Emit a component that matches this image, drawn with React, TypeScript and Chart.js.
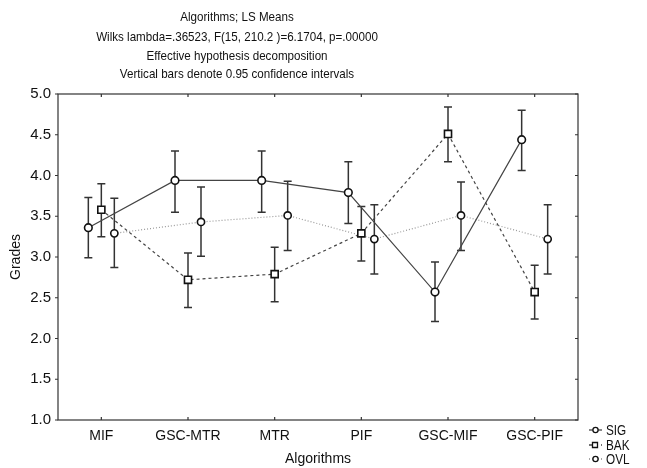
import React, { useEffect, useRef } from "react";
import { Chart, registerables } from "chart.js";

Chart.register(...registerables);

const categories = ["MIF", "GSC-MTR", "MTR", "PIF", "GSC-MIF", "GSC-PIF"];
const titleLines = [
  "Algorithms; LS Means",
  "Wilks lambda=.36523, F(15, 210.2 )=6.1704, p=.00000",
  "Effective hypothesis decomposition",
  "Vertical bars denote 0.95 confidence intervals",
];
const seriesNames = ["SIG", "BAK", "OVL"];
const sigMean = [3.36, 3.94, 3.94, 3.79, 2.57, 4.44];
const sigLow = [2.99, 3.55, 3.55, 3.41, 2.21, 4.06];
const sigHigh = [3.73, 4.3, 4.3, 4.17, 2.94, 4.8];
const bakMean = [3.58, 2.72, 2.79, 3.29, 4.51, 2.57];
const bakLow = [3.25, 2.38, 2.45, 2.95, 4.17, 2.24];
const bakHigh = [3.9, 3.05, 3.12, 3.62, 4.84, 2.9];
const ovlMean = [3.29, 3.43, 3.51, 3.22, 3.51, 3.22];
const ovlLow = [2.87, 3.01, 3.08, 2.79, 3.08, 2.79];
const ovlHigh = [3.72, 3.86, 3.93, 3.64, 3.92, 3.64];
const seriesOffsets = [-0.15, 0, 0.15];
const yTicks = [1.0, 1.5, 2.0, 2.5, 3.0, 3.5, 4.0, 4.5, 5.0];

const FONT = "'Liberation Sans', Arial, sans-serif";

export default function App() {
  const ref = useRef<HTMLCanvasElement | null>(null);
  useEffect(() => {
    if (!ref.current) return;
    const means = [sigMean, bakMean, ovlMean];
    const lows = [sigLow, bakLow, ovlLow];
    const highs = [sigHigh, bakHigh, ovlHigh];
    const lineColors = ["#444", "#444", "#999"];
    const dashes = [[], [3, 3], [1, 2]];
    const styles = ["circle", "rect", "circle"];
    const radii = [3.8, 5, 3.6];

    const datasets = seriesNames.map((name, s) => ({
      label: name,
      data: means[s].map((v, i) => ({ x: i + seriesOffsets[s], y: v })),
      borderColor: lineColors[s],
      borderWidth: 1.2,
      borderDash: dashes[s],
      pointStyle: styles[s],
      pointRadius: radii[s],
      pointBackgroundColor: "#fff",
      pointBorderColor: "#111",
      pointBorderWidth: 1.6,
      tension: 0,
    }));

    const custom = {
      id: "custom",
      beforeDatasetsDraw(chart: any) {
        const { ctx } = chart;
        const xs = chart.scales.x;
        const ys = chart.scales.y;
        ctx.save();
        ctx.strokeStyle = "#333";
        ctx.lineWidth = 1.5;
        for (let s = 0; s < 3; s++) {
          for (let i = 0; i < categories.length; i++) {
            const px = xs.getPixelForValue(i + seriesOffsets[s]);
            const pl = ys.getPixelForValue(lows[s][i]);
            const ph = ys.getPixelForValue(highs[s][i]);
            ctx.beginPath();
            ctx.moveTo(px, pl);
            ctx.lineTo(px, ph);
            ctx.moveTo(px - 4, pl);
            ctx.lineTo(px + 4, pl);
            ctx.moveTo(px - 4, ph);
            ctx.lineTo(px + 4, ph);
            ctx.stroke();
          }
        }
        ctx.restore();
      },
      afterDraw(chart: any) {
        const { ctx, chartArea: a } = chart;
        const xs = chart.scales.x;
        const ys = chart.scales.y;
        ctx.save();
        // frame
        ctx.strokeStyle = "#333";
        ctx.lineWidth = 1.2;
        ctx.strokeRect(a.left, a.top, a.right - a.left, a.bottom - a.top);
        ctx.beginPath();
        for (let i = 0; i < categories.length; i++) {
          const px = xs.getPixelForValue(i);
          ctx.moveTo(px, a.bottom);
          ctx.lineTo(px, a.bottom - 3);
          ctx.moveTo(px, a.top);
          ctx.lineTo(px, a.top + 3);
        }
        for (const t of yTicks) {
          const py = ys.getPixelForValue(t);
          ctx.moveTo(a.right, py);
          ctx.lineTo(a.right - 3, py);
          ctx.moveTo(a.left, py);
          ctx.lineTo(a.left - 3, py);
        }
        ctx.stroke();
        // title (slightly condensed, as in the reference)
        ctx.fillStyle = "#111";
        ctx.font = `13.5px ${FONT}`;
        ctx.textAlign = "center";
        ctx.textBaseline = "middle";
        const ty = [17, 37, 56, 74];
        titleLines.forEach((t, i) => {
          ctx.save();
          ctx.translate(237, ty[i]);
          ctx.scale(0.86, 1);
          ctx.fillText(t, 0, 0);
          ctx.restore();
        });
        // legend
        const ly = [430, 445, 459];
        ctx.textAlign = "left";
        ctx.font = `14px ${FONT}`;
        for (let s = 0; s < 3; s++) {
          ctx.strokeStyle = s === 2 ? "#888" : lineColors[s];
          ctx.lineWidth = 1.3;
          ctx.setLineDash(dashes[s]);
          ctx.beginPath();
          ctx.moveTo(589, ly[s]);
          ctx.lineTo(602, ly[s]);
          ctx.stroke();
          ctx.setLineDash([]);
          ctx.strokeStyle = "#111";
          ctx.fillStyle = "#fff";
          ctx.lineWidth = 1.3;
          ctx.beginPath();
          if (styles[s] === "rect") ctx.rect(592.5, ly[s] - 2.5, 5, 5);
          else ctx.arc(595.5, ly[s], 2.6, 0, Math.PI * 2);
          ctx.fill();
          ctx.stroke();
          ctx.fillStyle = "#111";
          ctx.save();
          ctx.translate(606, ly[s] + 1);
          ctx.scale(0.84, 1);
          ctx.fillText(seriesNames[s], 0, 0);
          ctx.restore();
        }
        ctx.restore();
      },
    };

    const chart = new Chart(ref.current, {
      type: "line",
      data: { datasets: datasets as any },
      options: {
        animation: false,
        responsive: false,
        layout: { padding: { top: 94, right: 69, left: 0, bottom: 0 } },
        plugins: { legend: { display: false }, title: { display: false }, tooltip: { enabled: false } },
        scales: {
          x: {
            type: "linear",
            min: -0.5,
            max: 5.5,
            afterFit: (sc: any) => { sc.height = 48; },
            afterBuildTicks: (sc: any) => { sc.ticks = categories.map((_, i) => ({ value: i })); },
            ticks: {
              callback: (v: any) => categories[Math.round(Number(v))] ?? "",
              color: "#111",
              font: { family: FONT, size: 14 },
              padding: 8,
              maxRotation: 0,
              autoSkip: false,
            },
            grid: { display: false, drawTicks: false },
            border: { display: false },
            title: { display: true, text: "Algorithms", color: "#111", font: { family: FONT, size: 14 }, padding: { top: 0, bottom: 0 } },
          },
          y: {
            min: 1,
            max: 5,
            afterFit: (sc: any) => { sc.width = 58; },
            afterBuildTicks: (sc: any) => { sc.ticks = yTicks.map((v) => ({ value: v })); },
            ticks: {
              callback: (v: any) => Number(v).toFixed(1),
              color: "#111",
              font: { family: FONT, size: 15 },
              padding: 7,
            },
            grid: { display: false, drawTicks: false },
            border: { display: false },
            title: { display: true, text: "Grades", color: "#111", font: { family: FONT, size: 14 }, padding: { top: 8, bottom: 0 } },
          },
        },
      } as any,
      plugins: [custom],
    });
    return () => chart.destroy();
  }, []);

  return (
    <div style={{ position: "absolute", left: 0, top: 0, width: 647, height: 468, background: "#fff" }}>
      <canvas ref={ref} width={647} height={468} style={{ display: "block" }} />
    </div>
  );
}
